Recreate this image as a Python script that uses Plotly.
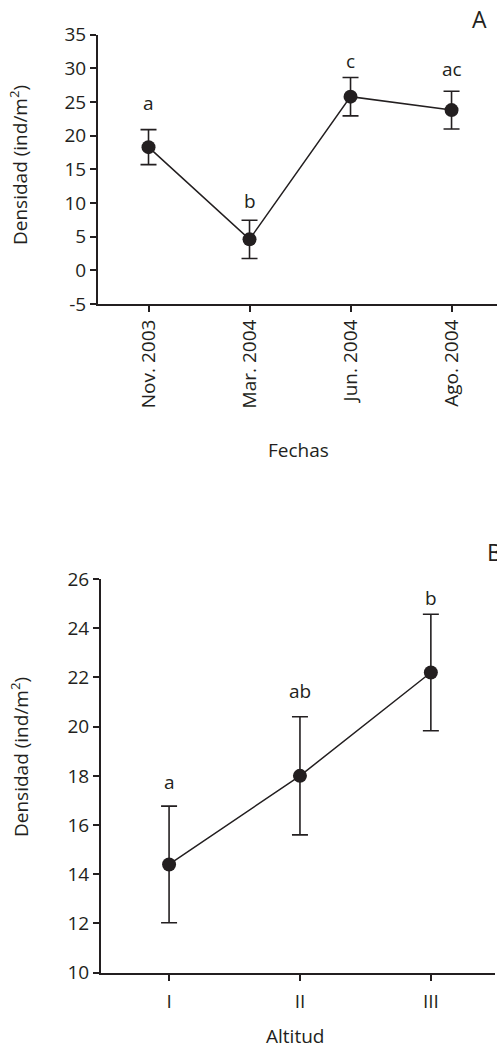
import plotly.graph_objects as go

# ---- Data: panel A (Fechas) ----
fechas = ["Nov. 2003", "Mar. 2004", "Jun. 2004", "Ago. 2004"]
dens_fechas = [18.3, 4.6, 25.8, 23.8]
err_fechas = [2.6, 2.85, 2.85, 2.8]
letras_fechas = ["a", "b", "c", "ac"]
yticks_A = [-5, 0, 5, 10, 15, 20, 25, 30, 35]
yticklabels_A = ["-5", "0", "5", "10", "15", "20", "25", "30", "35"]

# ---- Data: panel B (Altitud) ----
altitud = ["I", "II", "III"]
dens_altitud = [14.4, 18.0, 22.2]
err_altitud = [2.37, 2.4, 2.37]
letras_altitud = ["a", "ab", "b"]
yticks_B = [10, 12, 14, 16, 18, 20, 22, 24, 26]
yticklabels_B = ["10", "12", "14", "16", "18", "20", "22", "24", "26"]

# label placement (data units above top of error bar)
pad_A = [4.0, 2.9, 2.4, 3.3]
pad_B = [1.0, 1.05, 0.66]

INK = "#231f20"
FONT = "Open Sans"
FS = 19
W, H = 497, 1051

fig = go.Figure()

fig.add_trace(go.Scatter(
    x=fechas, y=dens_fechas, xaxis="x", yaxis="y",
    mode="lines+markers",
    line=dict(color=INK, width=1.5),
    marker=dict(color=INK, size=14),
    error_y=dict(type="data", array=err_fechas, visible=True,
                 color=INK, thickness=1.6, width=8),
    showlegend=False, cliponaxis=False,
))

fig.add_trace(go.Scatter(
    x=altitud, y=dens_altitud, xaxis="x2", yaxis="y2",
    mode="lines+markers",
    line=dict(color=INK, width=1.5),
    marker=dict(color=INK, size=14),
    error_y=dict(type="data", array=err_altitud, visible=True,
                 color=INK, thickness=1.6, width=8),
    showlegend=False, cliponaxis=False,
))

ann = []
for c, m, e, t, p in zip(fechas, dens_fechas, err_fechas, letras_fechas, pad_A):
    ann.append(dict(x=c, y=m + e + p, xref="x", yref="y", text=t, showarrow=False,
                    xanchor="center", yanchor="middle",
                    font=dict(family=FONT, size=FS, color=INK)))
for c, m, e, t, p in zip(altitud, dens_altitud, err_altitud, letras_altitud, pad_B):
    ann.append(dict(x=c, y=m + e + p, xref="x2", yref="y2", text=t, showarrow=False,
                    xanchor="center", yanchor="middle",
                    font=dict(family=FONT, size=FS, color=INK)))


def pann(x, y, text, size=FS, angle=0, xanchor="center"):
    return dict(x=x / W, y=1 - y / H, xref="paper", yref="paper", text=text,
                showarrow=False, textangle=angle, xanchor=xanchor, yanchor="middle",
                font=dict(family=FONT, size=size, color=INK))


ann += [
    pann(479, 18.5, "A", size=23),
    pann(485, 552, "B", size=23, xanchor="left"),
    pann(19, 165, "Densidad (ind/m<sup>2</sup>)", angle=-90),
    pann(20, 757, "Densidad (ind/m<sup>2</sup>)", angle=-90),
    pann(298, 450, "Fechas"),
    pann(295, 1036, "Altitud"),
]

axis_common = dict(showgrid=False, zeroline=False, showline=True, linecolor=INK,
                   linewidth=2, ticks="outside", tickcolor=INK, tickwidth=1.5,
                   ticklen=6, automargin=False,
                   tickfont=dict(family=FONT, size=FS, color=INK))

fig.update_layout(
    template="none",
    width=W, height=H,
    margin=dict(l=0, r=0, t=0, b=0, pad=0, autoexpand=False),
    paper_bgcolor="white", plot_bgcolor="white",
    xaxis=dict(domain=[98 / W, 1.0], anchor="y", type="category",
               range=[-0.5, 3.45], tickangle=-90, **axis_common),
    yaxis=dict(domain=[1 - 304 / H, 1 - 34.7 / H], anchor="x",
               range=[-5, 35], tickmode="array", tickvals=yticks_A,
               ticktext=yticklabels_A, **axis_common),
    xaxis2=dict(domain=[101 / W, 495 / W], anchor="y2", type="category",
                range=[-0.52, 2.49], ticklabelstandoff=4, **axis_common),
    yaxis2=dict(domain=[1 - 972.7 / H, 1 - 579 / H], anchor="x2",
                range=[10, 26], tickmode="array", tickvals=yticks_B,
                ticktext=yticklabels_B, **axis_common),
    annotations=ann,
)

fig.write_html("out.html", config={"displayModeBar": False},
               post_script="document.body.style.margin='0';document.body.style.overflow='hidden';")
